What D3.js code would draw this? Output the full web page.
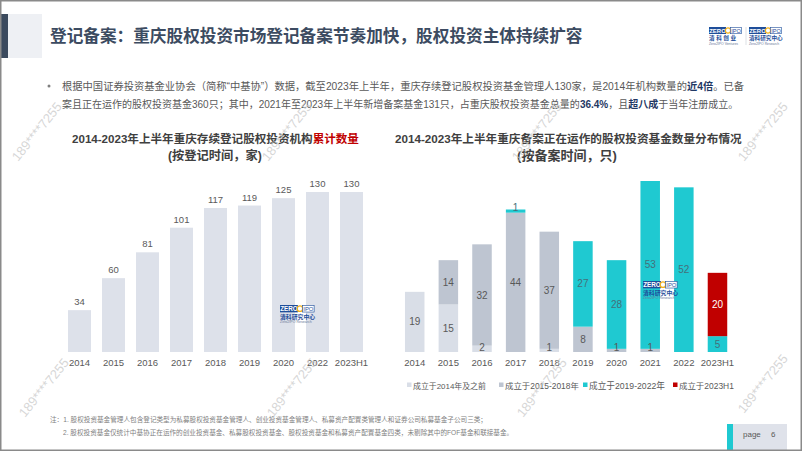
<!DOCTYPE html>
<html><head><meta charset="utf-8">
<script src="https://cdn.jsdelivr.net/npm/d3@7"></script>
<style>
html,body{margin:0;padding:0;background:#fff;}
svg{display:block;font-family:"Liberation Sans","Noto Sans CJK SC",sans-serif;}
</style></head>
<body>
<svg id="c" width="802" height="451"></svg>
<script>
// ---------- DATA ----------
const leftCategories = ["2014","2015","2016","2017","2018","2019","2020","2022","2023H1"];
const leftValues = [34,60,81,101,117,119,125,130,130];

const rightCategories = ["2014","2015","2016","2017","2018","2019","2020","2021","2022","2023H1"];
const seriesPre2014   = [19,15,2,0,1,0,0,0,0,0];
const series2015_2018 = [0,14,32,44,37,8,1,1,0,0];
const series2019_2022 = [0,0,0,1,0,27,28,53,52,5];
const series2023H1    = [0,0,0,0,0,0,0,0,0,20];
const seriesNames = ["成立于2014年及之前","成立于2015-2018年","成立于2019-2022年","成立于2023H1"];

const pageTitle = "登记备案：重庆股权投资市场登记备案节奏加快，股权投资主体持续扩容";
const leftTitle1 = "2014-2023年上半年重庆存续登记股权投资机构";
const leftTitleRed = "累计数量";
const leftTitle2 = "(按登记时间，家)";
const rightTitle1 = "2014-2023年上半年重庆备案正在运作的股权投资基金数量分布情况";
const rightTitle2 = "(按备案时间，只)";
const bulletLine1 = [["根据中国证券投资基金业协会（简称“中基协”）数据，截至2023年上半年，重庆存续登记股权投资基金管理人130家，是2014年机构数量的",false],["近4倍",true],["。已备",false]];
const bulletLine2 = [["案且正在运作的股权投资基金360只；其中，2021年至2023年上半年新增备案基金131只，占重庆股权投资基金总量的",false],["36.4%",true],["，且",false],["超八成",true],["于当年注册成立。",false]];
const note1 = "注：1. 股权投资基金管理人包含登记类型为私募股权投资基金管理人、创业投资基金管理人、私募资产配置类管理人和证券公司私募基金子公司三类；";
const note2 = "2. 股权投资基金仅统计中基协正在运作的创业投资基金、私募股权投资基金、股权投资基金和私募资产配置基金四类，未剔除其中的FOF基金和联接基金。";
const watermark = "189****7255";

// ---------- HELPERS ----------
const svg = d3.select("#c");
function fit(sel, w){
  const n = sel.node();
  const bw = n.getBBox().width;
  const fs = parseFloat(sel.attr("font-size"));
  if (bw>0) sel.attr("font-size", fs*w/bw);
  return sel;
}
const grey = "#595959";

// ---------- FRAME / HEADER ----------
svg.append("rect").attr("x",0).attr("y",0).attr("width",802).attr("height",451).attr("fill","#fff");
svg.append("rect").attr("x",0).attr("y",14).attr("width",8).attr("height",44).attr("fill","#3b4a5e");
svg.append("rect").attr("x",8).attr("y",14).attr("width",34).attr("height",44).attr("fill","#eef0f4");
fit(svg.append("text").attr("x",50).attr("y",42).attr("font-size",17).attr("font-weight","bold")
  .attr("fill","#3c4b61").text(pageTitle), 533);

// logos
function logo(g, x, y, cn, en, s){
  const gg = g.append("g").attr("transform",`translate(${x},${y}) scale(${s})`);
  gg.append("rect").attr("x",0).attr("y",0).attr("width",17).attr("height",7).attr("fill","#1f4e9a");
  gg.append("text").attr("x",8.5).attr("y",5.6).attr("text-anchor","middle").attr("font-size",6).attr("font-weight","bold").attr("fill","#fff").text("ZERO");
  gg.append("circle").attr("cx",19).attr("cy",3.5).attr("r",2.6).attr("fill","none").attr("stroke","#f2b220").attr("stroke-width",1.2);
  gg.append("rect").attr("x",21.5).attr("y",0.3).attr("width",11).attr("height",6.4).attr("fill","#fff").attr("stroke","#1f4e9a").attr("stroke-width",0.6);
  gg.append("text").attr("x",27).attr("y",5.6).attr("text-anchor","middle").attr("font-size",5.6).attr("fill","#1f4e9a").text("IPO");
  gg.append("text").attr("x",0).attr("y",13).attr("font-size",5.6).attr("font-weight","bold").attr("fill","#1f4e9a").text(cn);
  gg.append("text").attr("x",0).attr("y",17.5).attr("font-size",3.4).attr("fill","#6b7a99").text(en);
}
logo(svg, 709, 27, "清 科 创 业", "Zero2IPO Ventures", 1);
svg.append("line").attr("x1",746).attr("x2",746).attr("y1",27).attr("y2",45).attr("stroke","#c8ccd4").attr("stroke-width",0.6);
logo(svg, 749, 27, "清科研究中心", "Zero2IPO Research", 1);

// ---------- BULLET TEXT ----------
svg.append("circle").attr("cx",49).attr("cy",86).attr("r",1.5).attr("fill","#7f7f7f");
function richLine(parts, y, w){
  const t = svg.append("text").attr("x",62).attr("y",y).attr("font-size",11).attr("fill",grey);
  parts.forEach(p=>{
    const ts = t.append("tspan").text(p[0]);
    if (p[1]) ts.attr("font-weight","bold").attr("fill","#1f3864");
  });
  fit(t, w);
}
richLine(bulletLine1, 90, 683);
richLine(bulletLine2, 108, 677);

// ---------- CHART TITLES ----------
{
  const t = svg.append("text").attr("x",72).attr("y",143).attr("font-size",12).attr("font-weight","bold").attr("fill","#404040");
  t.append("tspan").text(leftTitle1);
  t.append("tspan").attr("fill","#c00000").text(leftTitleRed);
  fit(t, 287);
  fit(svg.append("text").attr("x",215).attr("y",160).attr("text-anchor","middle").attr("font-size",12).attr("font-weight","bold").attr("fill","#404040").text(leftTitle2), 94);
  fit(svg.append("text").attr("x",395).attr("y",143).attr("font-size",12).attr("font-weight","bold").attr("fill","#404040").text(rightTitle1), 347);
  fit(svg.append("text").attr("x",567).attr("y",160).attr("text-anchor","middle").attr("font-size",12).attr("font-weight","bold").attr("fill","#404040").text(rightTitle2), 100);
}

// ---------- LEFT CHART ----------
const xL = d3.scaleBand().domain(leftCategories).range([62.5,368.5]).paddingInner(0.324).paddingOuter(0.162);
const yL = d3.scaleLinear().domain([0,130]).range([352,192]);
const gL = svg.append("g");
gL.selectAll("rect").data(leftCategories).join("rect")
  .attr("x",d=>xL(d)).attr("width",xL.bandwidth())
  .attr("y",(d,i)=>yL(leftValues[i])).attr("height",(d,i)=>yL(0)-yL(leftValues[i]))
  .attr("fill","#dde1ea");
gL.selectAll("text.v").data(leftCategories).join("text").attr("class","v")
  .attr("x",d=>xL(d)+xL.bandwidth()/2).attr("y",(d,i)=>yL(leftValues[i])-5)
  .attr("text-anchor","middle").attr("font-size",9.5).attr("fill",grey)
  .text((d,i)=>leftValues[i]);
const axL = gL.append("g").attr("transform","translate(0,352)").call(d3.axisBottom(xL).tickSize(0).tickPadding(7));
axL.select(".domain").remove();
axL.selectAll("text").attr("font-size",9.5).attr("fill",grey).attr("font-family","Liberation Sans, Noto Sans CJK SC, sans-serif");

// ---------- RIGHT CHART ----------
const rows = rightCategories.map((c,i)=>({cat:c, s0:seriesPre2014[i], s1:series2015_2018[i], s2:series2019_2022[i], s3:series2023H1[i]}));
const keys = ["s0","s1","s2","s3"];
const colors = ["#d9dee7","#bec5d1","#1fc9d1","#c00000"];
const labelColors = [grey, grey, "#44707a", "#ffffff"];
const stacked = d3.stack().keys(keys)(rows);
const xR = d3.scaleBand().domain(rightCategories).range([397.9,734.3]).paddingInner(0.42).paddingOuter(0.21);
const yR = d3.scaleLinear().domain([0,54]).range([352,181]);
const gR = svg.append("g");
stacked.forEach((layer,k)=>{
  gR.append("g").selectAll("rect").data(layer.filter(d=>d[1]-d[0]>0)).join("rect")
    .attr("x",d=>xR(d.data.cat)).attr("width",xR.bandwidth())
    .attr("y",d=>yR(d[1])).attr("height",d=>yR(d[0])-yR(d[1]))
    .attr("fill",colors[k]);
});
stacked.forEach((layer,k)=>{
  gR.append("g").selectAll("text").data(layer.filter(d=>d[1]-d[0]>0)).join("text")
    .attr("x",d=>xR(d.data.cat)+xR.bandwidth()/2)
    .attr("y",d=>Math.min((yR(d[0])+yR(d[1]))/2, yR(d[0])-5))
    .attr("dy","0.35em")
    .attr("text-anchor","middle").attr("font-size",10).attr("fill",labelColors[k])
    .text(d=>d[1]-d[0]);
});
const axR = gR.append("g").attr("transform","translate(0,352)").call(d3.axisBottom(xR).tickSize(0).tickPadding(7));
axR.select(".domain").remove();
axR.selectAll("text").attr("font-size",9.5).attr("fill",grey).attr("font-family","Liberation Sans, Noto Sans CJK SC, sans-serif");

// legend
const legendX = [407, 499, 583, 673];
const legendW = [73, 74, 76, 55];
seriesNames.forEach((n,i)=>{
  svg.append("rect").attr("x",legendX[i]).attr("y",382.5).attr("width",4.5).attr("height",4.5).attr("fill",colors[i]);
  fit(svg.append("text").attr("x",legendX[i]+6).attr("y",388.5).attr("font-size",9).attr("fill",grey).text(n), legendW[i]);
});

// chart logos
logo(svg, 280, 305, "清科研究中心", "Zero2IPO Research", 1.05);
logo(svg, 643, 281, "清科研究中心", "Zero2IPO Research", 1.05);

// ---------- FOOTNOTES ----------
fit(svg.append("text").attr("x",50).attr("y",422).attr("font-size",7.5).attr("fill","#7f7f7f").text(note1), 438);
fit(svg.append("text").attr("x",63).attr("y",435).attr("font-size",7.5).attr("fill","#7f7f7f").text(note2), 451);

// page box
svg.append("rect").attr("x",727).attr("y",424).attr("width",60).attr("height",27).attr("fill","#dfe2ea");
svg.append("rect").attr("x",727).attr("y",424).attr("width",6).attr("height",27).attr("fill","#1fc9d1");
svg.append("text").attr("x",743).attr("y",437).attr("font-size",8).attr("fill",grey).text("page");
svg.append("text").attr("x",771).attr("y",437).attr("font-size",8).attr("fill",grey).text("6");

// ---------- WATERMARKS ----------
const wmPos = [[18,162],[268,162],[518,162],[744,162],[25,418],[273,418],[523,418],[744,414]];
svg.append("g").selectAll("text").data(wmPos).join("text")
  .attr("transform",d=>`translate(${d[0]},${d[1]}) rotate(-51)`)
  .attr("font-size",13).attr("fill","#c9c9c9").attr("fill-opacity",0.75).text(watermark);

// border
svg.append("rect").attr("x",0.75).attr("y",0.75).attr("width",800.5).attr("height",449.5).attr("fill","none").attr("stroke","#8a8a8a").attr("stroke-width",1.5);
</script>
</body></html>
